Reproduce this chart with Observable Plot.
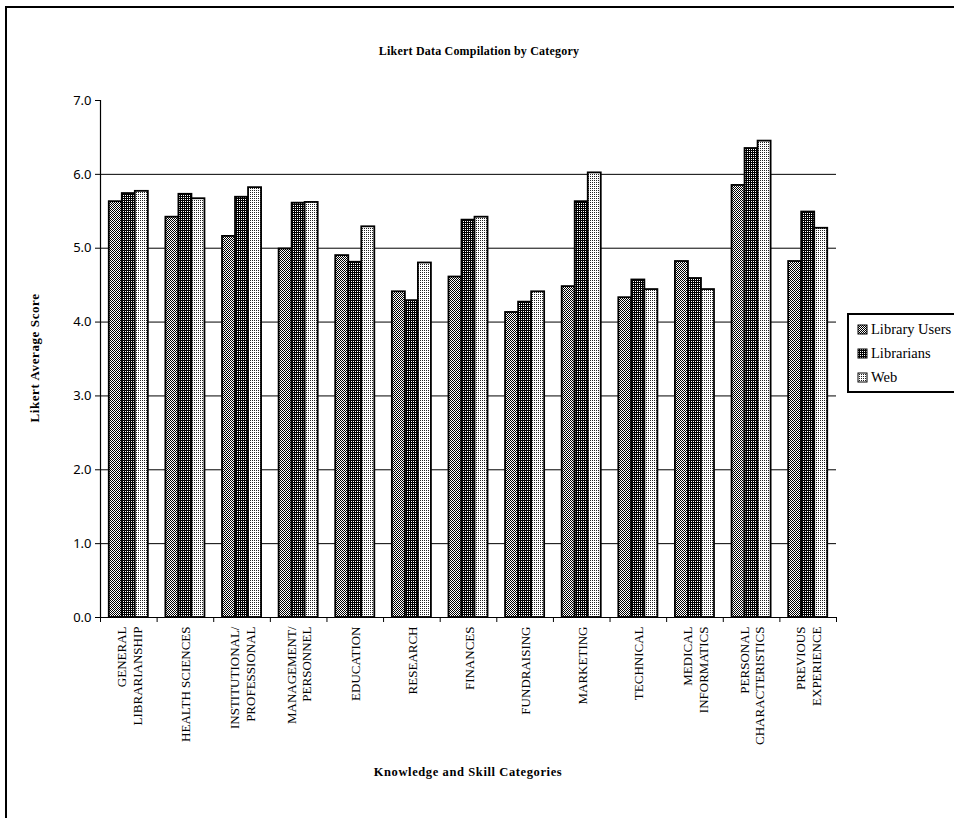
<!DOCTYPE html>
<html>
<head>
<meta charset="utf-8">
<script src="https://cdn.jsdelivr.net/npm/d3@7"></script>
<script src="https://cdn.jsdelivr.net/npm/@observablehq/plot@0.6"></script>
<style>
  html, body { margin: 0; padding: 0; background: #fff; }
  #page { position: relative; width: 954px; height: 818px; overflow: hidden; background: #fff; }
  #border { position: absolute; left: 5px; top: 6px; width: 1000px; height: 1000px; border: 2.5px solid #000; box-sizing: border-box; }
  #chart { position: absolute; left: 0; top: 0; }
  .t { position: absolute; font-family: "Liberation Serif", serif; font-weight: bold; color: #000; white-space: nowrap; }
  #title { left: 0; width: 958px; top: 44px; text-align: center; font-size: 12px; letter-spacing: 0.2px; }
  #xtitle { left: 0; width: 936px; top: 765px; text-align: center; font-size: 12.5px; letter-spacing: 0.6px; }
  #ytitle { left: 35px; top: 358px; font-size: 13px; letter-spacing: 0.6px; transform: translate(-50%, -50%) rotate(-90deg); }
  #legend { position: absolute; left: 847px; top: 313px; width: 140px; height: 80px; border: 2px solid #000; background: #fff; box-sizing: border-box; font-family: "Liberation Serif", serif; font-size: 14.5px; }
  .item { position: absolute; left: 8px; display: flex; align-items: center; }
  .item svg { margin-right: 3px; }
</style>
</head>
<body>
<svg width="0" height="0" style="position:absolute">
  <defs>
    <pattern id="pat0" width="2" height="2" patternUnits="userSpaceOnUse">
      <rect width="2" height="2" fill="#fff"/>
      <rect x="0" y="0" width="1" height="1" fill="#000"/>
      <rect x="1" y="1" width="1" height="1" fill="#000"/>
    </pattern>
    <pattern id="pat1" width="2" height="2" patternUnits="userSpaceOnUse">
      <rect width="2" height="2" fill="#000"/>
      <rect x="1" y="1" width="1" height="1" fill="#fff"/>
    </pattern>
    <pattern id="pat2" width="2" height="2" patternUnits="userSpaceOnUse">
      <rect width="2" height="2" fill="#fff"/>
      <rect x="0" y="0" width="1" height="1" fill="#222"/>
    </pattern>
  </defs>
</svg>
<div id="page">
  <div id="border"></div>
  <div id="chart"></div>
  <div id="title" class="t">Likert Data Compilation by Category</div>
  <div id="ytitle" class="t">Likert Average Score</div>
  <div id="xtitle" class="t">Knowledge and Skill Categories</div>
  <div id="legend"></div>
</div>
<script>
// ---- Data ----
const categories = [
  "GENERAL\nLIBRARIANSHIP",
  "HEALTH SCIENCES",
  "INSTITUTIONAL/\nPROFESSIONAL",
  "MANAGEMENT/\nPERSONNEL",
  "EDUCATION",
  "RESEARCH",
  "FINANCES",
  "FUNDRAISING",
  "MARKETING",
  "TECHNICAL",
  "MEDICAL\nINFORMATICS",
  "PERSONAL\nCHARACTERISTICS",
  "PREVIOUS\nEXPERIENCE"
];
const seriesNames = ["Library Users", "Librarians", "Web"];
const libraryUsers = [5.63, 5.42, 5.16, 4.99, 4.90, 4.41, 4.61, 4.13, 4.48, 4.33, 4.82, 5.85, 4.82];
const librarians   = [5.74, 5.73, 5.69, 5.61, 4.81, 4.29, 5.38, 4.27, 5.63, 4.57, 4.59, 6.35, 5.49];
const web          = [5.77, 5.67, 5.82, 5.62, 5.29, 4.80, 5.42, 4.41, 6.02, 4.44, 4.44, 6.45, 5.27];
const yTicks = [0, 1, 2, 3, 4, 5, 6, 7];
const gridTicks = [1, 2, 3, 4, 5, 6];

// ---- Build ----
const seriesValues = [libraryUsers, librarians, web];
const fills = ["url(#pat0)", "url(#pat1)", "url(#pat2)"];
const groupPad = 0.155, barW = 0.23; // fraction of a category step
const rows = [];
categories.forEach((c, i) => {
  seriesValues.forEach((vals, s) => {
    rows.push({cat: c, series: seriesNames[s], s, value: vals[i],
      x1: i + groupPad + s * barW, x2: i + groupPad + (s + 1) * barW});
  });
});
const boundaries = d3.range(0, categories.length + 1);

const chart = Plot.plot({
  width: 954,
  height: 818,
  marginLeft: 100,
  marginRight: 118,
  marginTop: 100,
  marginBottom: 201,
  style: {background: "transparent", fontFamily: "'Noto Sans', sans-serif", fontSize: "13px", color: "#000"},
  x: {type: "linear", domain: [0, categories.length]},
  y: {domain: [0, 7]},
  marks: [
    Plot.gridY(gridTicks, {stroke: "#000", strokeOpacity: 1, strokeWidth: 1}),
    Plot.rectY(rows, {x1: "x1", x2: "x2", y: "value",
      fill: d => fills[d.s], stroke: "#000", strokeWidth: 1.8}),
    Plot.ruleX([0], {stroke: "#000", strokeWidth: 1.2}),
    Plot.ruleY([0], {stroke: "#000", strokeWidth: 1.2}),
    Plot.axisY({ticks: yTicks, tickFormat: d => d.toFixed(1), tickSize: 5, tickPadding: 4, label: null, fontSize: 13}),
    Plot.axisX({ticks: boundaries, tickFormat: () => "", tickSize: 5, label: null}),
    Plot.text(categories, {
      x: (d, i) => i + 0.5, y: () => 0, text: d => d,
      rotate: -90, textAnchor: "end", lineAnchor: "middle", dy: 9,
      fontFamily: "'Liberation Serif', serif", fontSize: 13, lineHeight: 1.2, fill: "#000"
    })
  ]
});
document.getElementById("chart").appendChild(chart);

// ---- Legend ----
const legend = document.getElementById("legend");
seriesNames.forEach((name, s) => {
  const item = document.createElement("div");
  item.className = "item";
  item.style.top = (6 + s * 24) + "px";
  item.innerHTML = `<svg width="11" height="11"><rect x="1" y="1" width="9" height="9" fill="${fills[s]}" stroke="#000" stroke-width="1"/></svg><span>${name}</span>`;
  legend.appendChild(item);
});
</script>
</body>
</html>
